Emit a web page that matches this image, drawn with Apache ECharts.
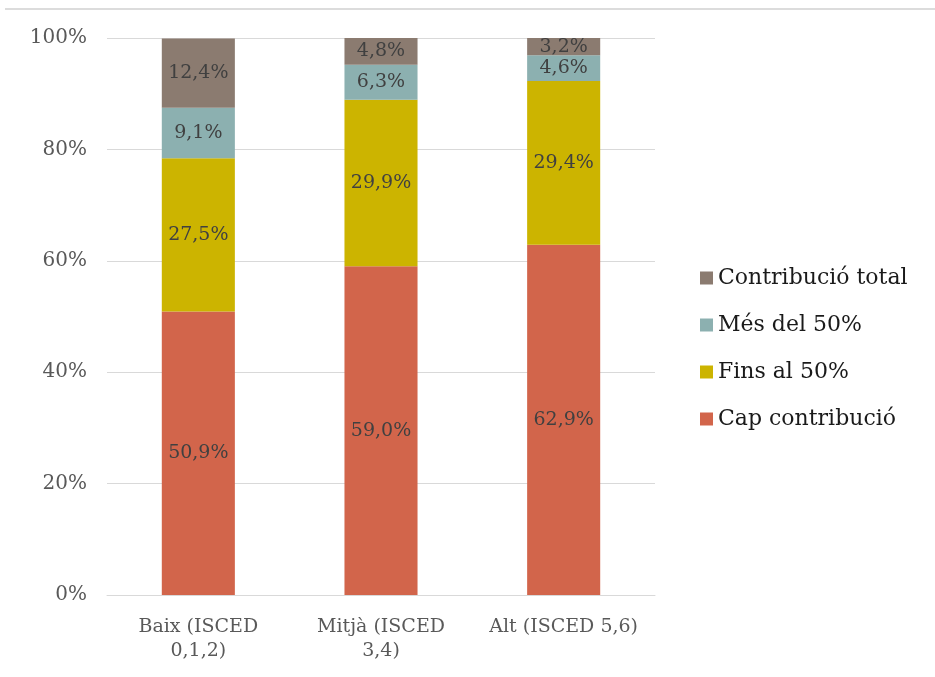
<!DOCTYPE html>
<html><head><meta charset="utf-8">
<script src="https://cdn.jsdelivr.net/npm/echarts@6/dist/echarts.min.js"></script>
<style>html,body{margin:0;padding:0;background:#fff}#c{width:935px;height:677px}</style>
</head><body><div id="c"></div>
<script>
var categories = ['Baix (ISCED\n0,1,2)', 'Mitjà (ISCED\n3,4)', 'Alt (ISCED 5,6)'];
var capContribucio = [50.9, 59.0, 62.9];
var finsAl50 = [27.5, 29.9, 29.4];
var mesDel50 = [9.1, 6.3, 4.6];
var contribucioTotal = [12.4, 4.8, 3.2];
var yTicks = ['0%', '20%', '40%', '60%', '80%', '100%'];

var FONT = '"DejaVu Serif", "Liberation Serif", serif';
function fmt(p){ return p.value.toFixed(1).replace('.', ',') + '%'; }
function mk(name, data, color){
  return {
    name: name, type: 'bar', stack: 'a', data: data, barWidth: '40%',
    itemStyle: {color: color},
    label: {show: true, position: 'inside', formatter: fmt, color: '#404040',
            fontFamily: FONT, fontSize: 19}
  };
}
var chart = echarts.init(document.getElementById('c'));
chart.setOption({
  animation: false,
  graphic: [{type: 'line', shape: {x1: 5, y1: 9, x2: 935, y2: 9}, style: {stroke: '#d0d0d0', lineWidth: 1.5}}],
  grid: {left: 107, right: 280, top: 38, bottom: 82, containLabel: false},
  legend: {
    orient: 'vertical', left: 695, top: 262, itemGap: 25, itemWidth: 13, itemHeight: 13,
    icon: 'rect',
    textStyle: {fontFamily: FONT, fontSize: 22, color: '#1a1a1a'},
    data: ['Contribució total', 'Més del 50%', 'Fins al 50%', 'Cap contribució']
  },
  xAxis: {
    type: 'category', data: categories,
    axisLine: {lineStyle: {color: '#d9d9d9'}}, axisTick: {show: false},
    axisLabel: {fontFamily: FONT, fontSize: 19, color: '#595959', margin: 20, lineHeight: 24, interval: 0}
  },
  yAxis: {
    type: 'value', min: 0, max: 100, interval: 20,
    axisLine: {show: false}, axisTick: {show: false},
    splitLine: {lineStyle: {color: '#d9d9d9'}},
    axisLabel: {fontFamily: FONT, fontSize: 20, color: '#595959', margin: 20,
      formatter: function(v){ return yTicks[Math.round(v/20)]; }}
  },
  series: [
    mk('Cap contribució', capContribucio, '#d2654b'),
    mk('Fins al 50%', finsAl50, '#ccb400'),
    mk('Més del 50%', mesDel50, '#8cb0b0'),
    mk('Contribució total', contribucioTotal, '#8b7b70')
  ]
});
</script></body></html>
